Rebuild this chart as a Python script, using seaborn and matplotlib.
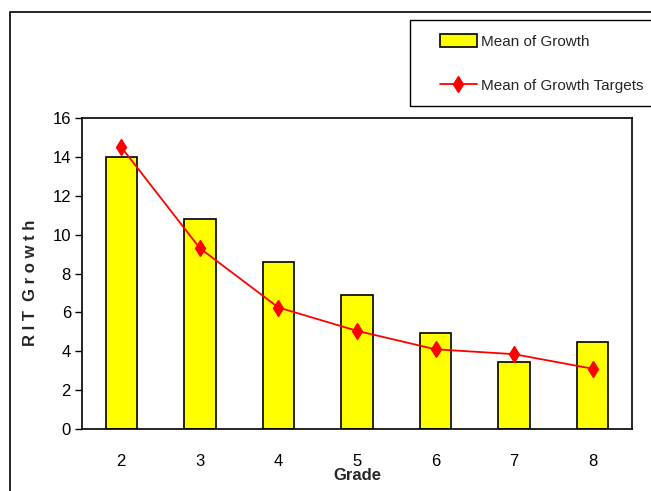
import matplotlib
matplotlib.use("Agg")
import matplotlib.pyplot as plt
from matplotlib.patches import Rectangle
from matplotlib.lines import Line2D
import seaborn as sns
import pandas as pd

grades = ["2", "3", "4", "5", "6", "7", "8"]
mean_growth = [14.0, 10.8, 8.6, 6.9, 4.95, 3.45, 4.5]
mean_targets = [14.5, 9.3, 6.25, 5.05, 4.1, 3.85, 3.1]

df = pd.DataFrame({"Grade": grades, "Growth": mean_growth, "Target": mean_targets})

sns.set_theme(style="white")
plt.rcParams["font.family"] = ["Liberation Sans", "DejaVu Sans"]

W, H = 651, 491
fig = plt.figure(figsize=(W / 100, H / 100), dpi=100)
fig.patch.set_facecolor("white")
ax = fig.add_axes([82 / W, 1 - 429 / H, 550 / W, 311 / H])

sns.barplot(data=df, x="Grade", y="Growth", color="#FFFF00", width=0.4,
            edgecolor="black", linewidth=1.2, saturation=1, ax=ax)
sns.pointplot(data=df, x="Grade", y="Target", color="#FF0000", markers="d",
              markersize=8, linewidth=1.3, ax=ax)

ax.set_xlim(-0.5, 6.5)
ax.set_ylim(0, 16)
ax.set_yticks(range(0, 17, 2))
ax.set_facecolor("white")
for s in ax.spines.values():
    s.set_visible(True)
    s.set_color("black")
    s.set_linewidth(1.2)

ax.tick_params(axis="x", which="major", length=0, pad=18, labelsize=12, colors="black")
ax.set_xticks([i - 0.5 for i in range(8)], minor=True)
ax.tick_params(axis="x", which="minor", length=12, direction="inout", width=1, color="black")
ax.tick_params(axis="y", which="major", left=True, length=5, direction="out", width=1,
               labelsize=12, colors="black", pad=3)

ax.set_xlabel("Grade", fontsize=12, fontweight="bold", labelpad=-1)
ax.set_ylabel("R I T  G r o w t h", fontsize=12, fontweight="bold", labelpad=3)
ax.yaxis.set_label_coords(-0.08, 0.47)
ax.grid(False)

# Outer chart frame and legend frame
fig.patches.append(Rectangle((10 / W, -0.1), 1.0, 1.1 - 12 / H, transform=fig.transFigure,
                             fill=False, edgecolor="black", linewidth=1.2))
fig.patches.append(Rectangle((410 / W, 1 - 106 / H), 0.5, 86 / H, transform=fig.transFigure,
                             fill=False, edgecolor="black", linewidth=1.0))

handles = [
    Rectangle((0, 0), 1, 1, facecolor="#FFFF00", edgecolor="black", linewidth=1.2),
    Line2D([0], [0], color="#FF0000", marker="d", markersize=8, linewidth=1.3),
]
leg = fig.legend(handles, ["Mean of Growth", "Mean of Growth Targets"],
                 loc="upper left", bbox_to_anchor=(440 / W, 1 - 34 / H),
                 fontsize=11, frameon=False,
                 handlelength=2.4, handleheight=0.9, handletextpad=0.3,
                 labelspacing=1.95, borderpad=0, borderaxespad=0)

fig.savefig("out.png", dpi=100)
